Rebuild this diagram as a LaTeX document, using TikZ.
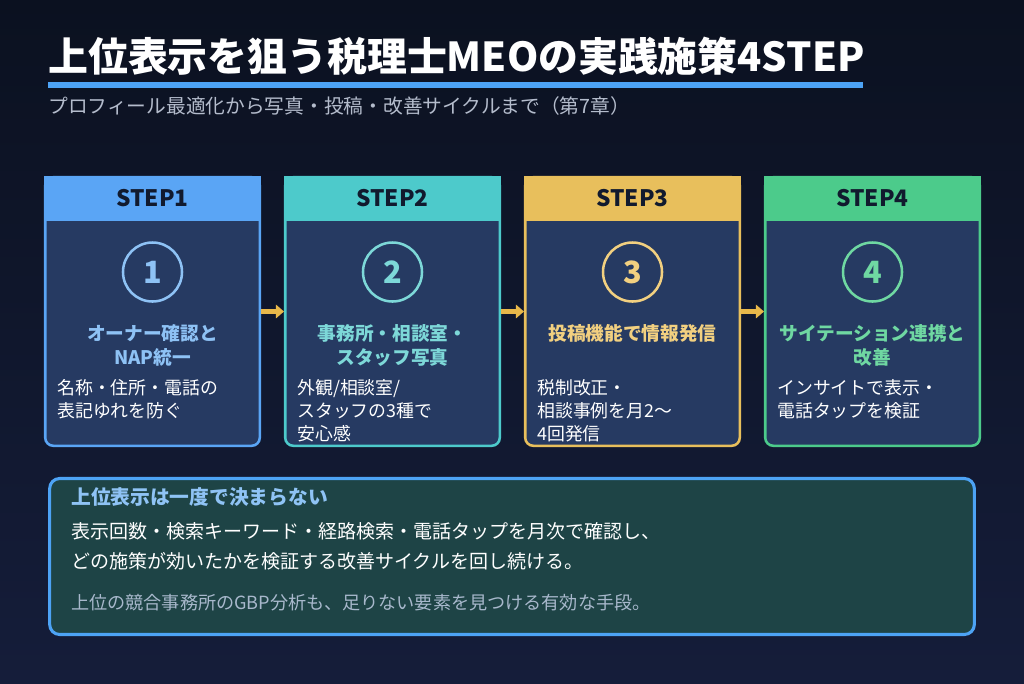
\documentclass[tikz,border=0pt]{standalone}
\usepackage{fontspec}
\setmainfont{Noto Sans CJK JP}
\usetikzlibrary{arrows.meta}
\definecolor{bgtop}{HTML}{0B1120}
\definecolor{bgbot}{HTML}{151D3A}
\definecolor{cardbg}{HTML}{263A62}
\definecolor{hdrtext}{HTML}{111A2E}
\definecolor{cA}{HTML}{5AA5F5}
\definecolor{cB}{HTML}{4DCACB}
\definecolor{cC}{HTML}{E8BF5C}
\definecolor{cD}{HTML}{4CCB8B}
\definecolor{lA}{HTML}{8EC2F5}
\definecolor{lB}{HTML}{7DD8D8}
\definecolor{lC}{HTML}{F2D080}
\definecolor{lD}{HTML}{6FD8A2}
\definecolor{titlebar}{HTML}{4DA3F5}
\definecolor{subgray}{HTML}{B4BCCC}
\definecolor{noteg}{HTML}{1E4446}
\definecolor{noteline}{HTML}{4DA3F5}
\definecolor{notetitle}{HTML}{8FC3F5}
\definecolor{notegray}{HTML}{A8B8CC}
\definecolor{arrgold}{HTML}{E8B84A}
\begin{document}
\begin{tikzpicture}[x=0.75pt,y=-0.75pt,
  cardbox/.style={draw=#1, fill=cardbg, line width=1.9pt, rounded corners=6pt,
    minimum width=160.9pt, minimum height=201.4pt, inner sep=0pt},
  hdrbox/.style={fill=#1, minimum width=162.75pt, minimum height=33.75pt, inner sep=0pt,
    text=hdrtext, font=\bfseries\fontsize{17}{17}\selectfont},
  numcirc/.style={circle, draw=#1, line width=1.9pt, minimum size=44.25pt, inner sep=0pt,
    text=#1, font=\bfseries\fontsize{23}{23}\selectfont},
  ctitle/.style={text=#1, align=center, inner sep=0pt, font=\bfseries\fontsize{14}{18}\selectfont},
  cdesc/.style={text=white, align=left, anchor=west, inner sep=0pt, font=\fontsize{13.4}{17.25}\selectfont},
  arr/.style={draw=arrgold, line width=3.2pt, -{Triangle[length=6pt,width=10pt]}},
  plain/.style={inner sep=0pt, anchor=west}]
\shade[top color=bgtop, bottom color=bgbot] (0,0) rectangle (1024,683);
\useasboundingbox (0,0) rectangle (1024,683);

% title
\node[plain, text=white, font=\bfseries\fontsize{29.9}{29.9}\selectfont] (title) at (48,56) {上位表示を狙う税理士MEOの実践施策4STEP};
\fill[titlebar] (48,82) rectangle (863,88);
\node[plain, text=subgray, font=\fontsize{14.8}{14.8}\selectfont] (sub) at (48,106) {プロフィール最適化から写真・投稿・改善サイクルまで（第7章）};

% cards
\node[cardbox=cA] (card1) at (152.5,311.5) {};
\node[cardbox=cB] (card2) at (392.5,311.5) {};
\node[cardbox=cC] (card3) at (632.5,311.5) {};
\node[cardbox=cD] (card4) at (872.5,311.5) {};

\node[hdrbox=cA] (h1) at (152.5,198.5) {STEP1};
\node[hdrbox=cB] (h2) at (392.5,198.5) {STEP2};
\node[hdrbox=cC] (h3) at (632.5,198.5) {STEP3};
\node[hdrbox=cD] (h4) at (872.5,198.5) {STEP4};

\node[numcirc=lA] (n1) at (152.5,272) {1};
\node[numcirc=lB] (n2) at (392.5,272) {2};
\node[numcirc=lC] (n3) at (632.5,272) {3};
\node[numcirc=lD] (n4) at (872.5,272) {4};

\node[ctitle=lA] (t1) at (152.5,345) {オーナー確認と\\NAP統一};
\node[ctitle=lB] (t2) at (392.5,345) {事務所・相談室・\\スタッフ写真};
\node[ctitle=lC] (t3) at (632.5,333) {投稿機能で情報発信};
\node[ctitle=lD] (t4) at (872.5,345) {サイテーション連携と\\改善};

\node[cdesc] (d1) at (57,399) {名称・住所・電話の\\表記ゆれを防ぐ};
\node[cdesc] (d2) at (297,410.5) {外観/相談室/\\スタッフの3種で\\安心感};
\node[cdesc] (d3) at (537,410.5) {税制改正・\\相談事例を月2～\\4回発信};
\node[cdesc] (d4) at (777,399) {インサイトで表示・\\電話タップを検証};

\draw[arr] (card1.east) -- (card2.west);
\draw[arr] (card2.east) -- (card3.west);
\draw[arr] (card3.east) -- (card4.west);

% note box
\node[draw=noteline, fill=noteg, line width=2.3pt, rounded corners=7.5pt,
  minimum width=693.5pt, minimum height=117pt, inner sep=0pt] (note) at (512,556.5) {};
\node[plain, text=notetitle, font=\bfseries\fontsize{14.8}{14.8}\selectfont] (nt) at (71,497) {上位表示は一度で決まらない};
\node[plain, text=white, font=\fontsize{14.25}{14.25}\selectfont] (nl1) at (71,531) {表示回数・検索キーワード・経路検索・電話タップを月次で確認し、};
\node[plain, text=white, font=\fontsize{14.25}{14.25}\selectfont] (nl2) at (71,561) {どの施策が効いたかを検証する改善サイクルを回し続ける。};
\node[plain, text=notegray, font=\fontsize{13.6}{13.6}\selectfont] (nl3) at (71,603) {上位の競合事務所のGBP分析も、足りない要素を見つける有効な手段。};
\end{tikzpicture}
\end{document}
